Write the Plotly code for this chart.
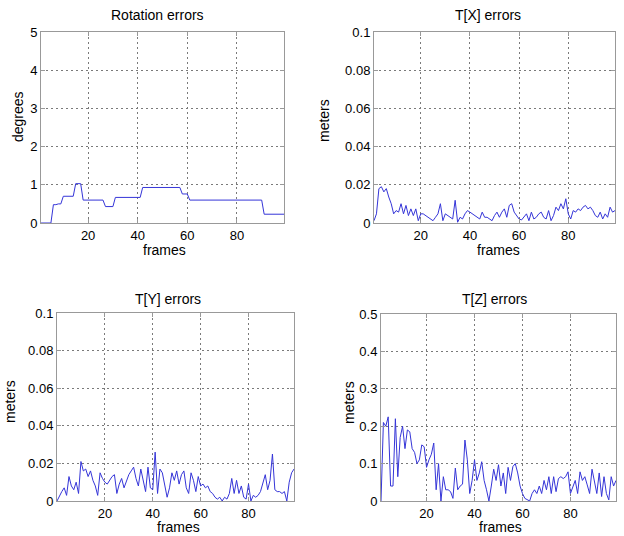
import plotly.graph_objects as go

# frame numbers on the x axis
frames = list(range(1, 100))
frames_y = list(range(0, 100))

rotation_err = [
    0, 0, 0, 0, 0, 0.48, 0.48, 0.5, 0.5, 0.7,
    0.7, 0.7, 0.7, 0.7, 1.03, 1.03, 1.03, 0.6, 0.6, 0.6,
    0.6, 0.6, 0.6, 0.6, 0.6, 0.6, 0.43, 0.43, 0.43, 0.43,
    0.67, 0.67, 0.67, 0.67, 0.67, 0.67, 0.67, 0.67, 0.67, 0.67,
    0.67, 0.93, 0.93, 0.93, 0.93, 0.93, 0.93, 0.93, 0.93, 0.93,
    0.93, 0.93, 0.93, 0.93, 0.93, 0.93, 0.93, 0.76, 0.76, 0.76,
    0.6, 0.6, 0.6, 0.6, 0.6, 0.6, 0.6, 0.6, 0.6, 0.6,
    0.6, 0.6, 0.6, 0.6, 0.6, 0.6, 0.6, 0.6, 0.6, 0.6,
    0.6, 0.6, 0.6, 0.6, 0.6, 0.6, 0.6, 0.6, 0.6, 0.6,
    0.23, 0.23, 0.23, 0.23, 0.23, 0.23, 0.23, 0.23, 0.23,
]

tx_err = [
    0.0012, 0.0048, 0.018, 0.019, 0.0163, 0.018, 0.0136, 0.0101, 0.0048, 0.0065,
    0.0057, 0.0101, 0.0048, 0.0092, 0.0039, 0.0074, 0.0039, 0.0074, 0.0012, 0.0048,
    0.0048, 0.0039, 0.0034, 0.0021, 0.0012, 0.003, 0.0048, 0.0101, 0.0012, 0.0048,
    0.0039, 0.003, 0.0021, 0.0119, 0.0004, 0.003, 0.0021, 0.0048, 0.0065, 0.0057,
    0.0048, 0.0039, 0.003, 0.0021, 0.0057, 0.003, 0.003, 0.0021, 0.0012, 0.0039,
    0.0057, 0.003, 0.0057, 0.0074, 0.003, 0.0092, 0.0101, 0.0057, 0.0039, 0.0021,
    0.0016, 0.003, 0.0048, 0.0012, 0.0057, 0.0021, 0.003, 0.0048, 0.0057, 0.003,
    0.0021, 0.0065, 0.0012, 0.0039, 0.0083, 0.0065, 0.0101, 0.0074, 0.0127, 0.0048,
    0.0021, 0.0065, 0.0057, 0.0074, 0.0065, 0.0083, 0.0092, 0.0074, 0.0083, 0.0065,
    0.0039, 0.003, 0.0057, 0.0021, 0.0048, 0.003, 0.0083, 0.0057, 0.0065,
]

ty_err = [
    0.0,
    0.003, 0.005, 0.007, 0.003, 0.013, 0.008, 0.006, 0.010, 0.004, 0.021,
    0.016, 0.017, 0.013, 0.016, 0.011, 0.008, 0.003, 0.015, 0.012, 0.010,
    0.009, 0.011, 0.013, 0.014, 0.004, 0.009, 0.012, 0.007, 0.011, 0.014,
    0.016, 0.018, 0.012, 0.008, 0.017, 0.011, 0.005, 0.018, 0.007, 0.006,
    0.026, 0.004, 0.017, 0.015, 0.009, 0.002, 0.007, 0.015, 0.011, 0.016,
    0.009, 0.014, 0.016, 0.007, 0.004, 0.015, 0.011, 0.005, 0.013, 0.008,
    0.009, 0.007, 0.008, 0.005, 0.004, 0.002, 0.001, 0.002, 0.000, 0.002,
    0.001, 0.004, 0.012, 0.004, 0.011, 0.004, 0.008, 0.002, 0.001, 0.009,
    0.000, 0.003, 0.002, 0.003, 0.005, 0.009, 0.014, 0.006, 0.011, 0.025,
    0.006, 0.005, 0.005, 0.004, 0.005, 0.000, 0.010, 0.015, 0.017,
]

tz_err = [
    0.0, 0.21, 0.2, 0.225, 0.04, 0.04, 0.22, 0.065, 0.17, 0.2,
    0.14, 0.19, 0.185, 0.14, 0.13, 0.1, 0.11, 0.15, 0.145, 0.09,
    0.11, 0.125, 0.155, 0.03, 0.1, 0.0, 0.065, 0.03, 0.03, 0.025,
    0.007, 0.088, 0.03, 0.04, 0.045, 0.163, 0.11, 0.02, 0.055, 0.11,
    0.055, 0.075, 0.105, 0.055, 0.03, 0.0, 0.04, 0.085, 0.055, 0.097,
    0.04, 0.075, 0.02, 0.09, 0.055, 0.092, 0.1, 0.075, 0.04, 0.02,
    0.007, 0.003, 0.0, 0.02, 0.03, 0.02, 0.04, 0.02, 0.055, 0.03,
    0.065, 0.02, 0.065, 0.025, 0.06, 0.065, 0.06, 0.065, 0.078, 0.02,
    0.035, 0.055, 0.02, 0.078, 0.055, 0.065, 0.043, 0.02, 0.085, 0.055,
    0.02, 0.075, 0.012, 0.065, 0.02, 0.003, 0.065, 0.04, 0.055,
]

titles = ["Rotation errors", "T[X] errors", "T[Y] errors", "T[Z] errors"]
ylabels = ["degrees", "meters", "meters", "meters"]
xlabel = "frames"

x_ticks = [20, 40, 60, 80]
rot_ticks = [0, 1, 2, 3, 4, 5]
rot_ticktext = ["0", "1", "2", "3", "4", "5"]
small_ticks = [0, 0.02, 0.04, 0.06, 0.08, 0.1]
small_ticktext = ["0", "0.02", "0.04", "0.06", "0.08", "0.1"]
tz_ticks = [0, 0.1, 0.2, 0.3, 0.4, 0.5]
tz_ticktext = ["0", "0.1", "0.2", "0.3", "0.4", "0.5"]

W, H = 624, 536
FONT = "Liberation Sans, Arial, Helvetica, sans-serif"
LINE_COLOR = "#3535d8"


def px(x, y):
    return x / W, 1 - y / H


# plot boxes in pixels: left, top, right, bottom
boxes = [(41, 32, 284, 223), (374, 32, 615, 223), (57, 313, 294, 501), (381, 314, 616, 501)]
xranges = [[1, 99], [1, 99], [0, 99], [1, 99]]
yranges = [[0, 5], [0, 0.1], [0, 0.1], [0, 0.5]]
yticks = [(rot_ticks, rot_ticktext), (small_ticks, small_ticktext),
          (small_ticks, small_ticktext), (tz_ticks, tz_ticktext)]
series = [(frames, rotation_err), (frames, tx_err), (frames_y, ty_err), (frames, tz_err)]

# text positions in pixels
title_pos = [(157, 15), (488, 15), (168, 299), (494, 299)]
xlabel_pos = [(164, 250), (498, 250), (178, 527), (500, 527)]
ylabel_pos = [(18, 117), (324, 121), (10, 402), (349, 403)]

fig = go.Figure()

axis_common = dict(
    showline=True, linecolor="#999999", linewidth=1, mirror="ticks",
    showgrid=True, gridcolor="#7a7a7a", griddash="2px,3px", gridwidth=1,
    ticks="inside", ticklen=4, tickcolor="#999999", zeroline=False,
    automargin=False,
    tickfont=dict(family=FONT, size=13, color="black"),
)

layout = {}
annotations = []
for i in range(4):
    n = "" if i == 0 else str(i + 1)
    l, t, r, b = boxes[i]
    fig.add_trace(go.Scatter(
        x=series[i][0], y=series[i][1], mode="lines",
        line=dict(color=LINE_COLOR, width=1),
        xaxis="x" + n, yaxis="y" + n, showlegend=False,
    ))
    layout["xaxis" + n] = dict(
        axis_common, domain=[l / W, r / W], range=xranges[i],
        tickvals=x_ticks, anchor="y" + n,
    )
    layout["yaxis" + n] = dict(
        axis_common, domain=[1 - b / H, 1 - t / H], range=yranges[i],
        tickvals=yticks[i][0], ticktext=yticks[i][1], anchor="x" + n,
    )

    for (ax, ay), text, angle in [(title_pos[i], titles[i], 0),
                                  (xlabel_pos[i], xlabel, 0),
                                  (ylabel_pos[i], ylabels[i], -90)]:
        x, y = px(ax, ay)
        annotations.append(dict(x=x, y=y, text=text, showarrow=False,
                                xref="paper", yref="paper",
                                xanchor="center", yanchor="middle",
                                textangle=angle,
                                font=dict(family=FONT, size=14, color="black")))

fig.update_layout(
    template="none",
    width=W, height=H,
    margin=dict(l=0, r=0, t=0, b=0, autoexpand=False),
    paper_bgcolor="white", plot_bgcolor="white",
    annotations=annotations,
    **layout,
)

# drop the browser's default body margin so the figure sits at the page corner
fig.write_html("out.html", config={"displayModeBar": False},
               post_script="document.body.style.margin = '0';")
